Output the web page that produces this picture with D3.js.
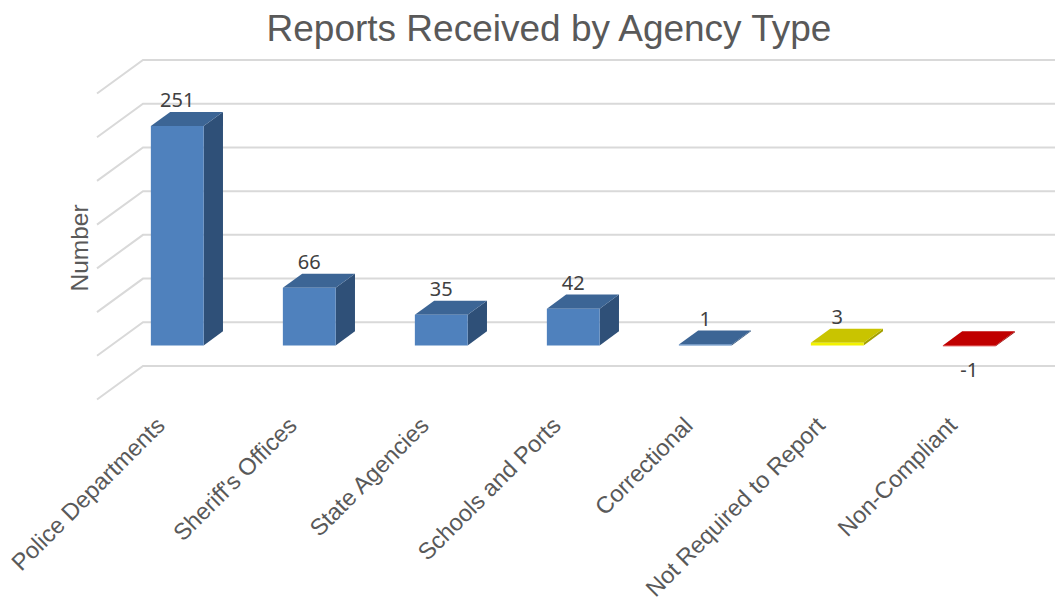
<!DOCTYPE html>
<html>
<head>
<meta charset="utf-8">
<script src="https://cdn.jsdelivr.net/npm/d3@7"></script>
<style>
  html, body { margin: 0; padding: 0; background: #fff; }
  svg { display: block; }
</style>
</head>
<body>
<div id="chart"></div>
<script>
// Data
const categories = ['Police Departments', "Sheriff's Offices", 'State Agencies', 'Schools and Ports',
                    'Correctional', 'Not Required to Report', 'Non-Compliant'];
const values = [251, 66, 35, 42, 1, 3, -1];
const yDomain = [-50, 300];

// Shading per bar: front, top, side
const shades = [
  ['#4f81bd', '#3c6595', '#2f5078'],
  ['#4f81bd', '#3c6595', '#2f5078'],
  ['#4f81bd', '#3c6595', '#2f5078'],
  ['#4f81bd', '#3c6595', '#2f5078'],
  ['#4f81bd', '#3c6595', '#2f5078'],
  ['#f2f200', '#c9c400', '#a3a000'],
  ['#d00000', '#c00000', '#900000']
];

const width = 1055, height = 601;
const sansFont = 'Arial, "Liberation Sans", sans-serif';

// Depth vector for oblique projection (full floor depth)
const depthX = 46, depthY = -33.5;
const zFront = 0.31, zBack = 0.73;

const svg = d3.select('#chart').append('svg')
  .attr('width', width)
  .attr('height', height);

// Scales in the front plane
const x = d3.scaleBand()
  .domain(categories)
  .range([97, 1021])
  .paddingInner(0.6)
  .paddingOuter(0.3);

const y = d3.scaleLinear()
  .domain(yDomain)
  .range([399.5, 93.5]);

const proj = (px, v, z) => [px + z * depthX, y(v) + z * depthY];
const poly = pts => 'M' + pts.map(p => p.join(',')).join('L') + 'Z';

// Gridlines: back wall + left wall
const grid = svg.append('g')
  .attr('stroke', '#d9d9d9')
  .attr('stroke-width', 2)
  .attr('fill', 'none');

y.ticks(7).forEach(t => {
  const a = proj(97, t, 0), b = proj(97, t, 1), c = proj(1100, t, 1);
  grid.append('path').attr('d', `M${a}L${b}L${c}`);
});

// Bars
const bars = svg.append('g');
values.forEach((v, i) => {
  const x0 = x(categories[i]), x1 = x0 + x.bandwidth();
  const top = Math.max(0, v), bot = Math.min(0, v);
  const [front, topC, side] = shades[i];
  const g = bars.append('g');
  g.append('path')
    .attr('fill', side)
    .attr('d', poly([proj(x1, top, zFront), proj(x1, top, zBack), proj(x1, bot, zBack), proj(x1, bot, zFront)]));
  g.append('path')
    .attr('fill', topC)
    .attr('d', poly([proj(x0, top, zFront), proj(x1, top, zFront), proj(x1, top, zBack), proj(x0, top, zBack)]));
  g.append('path')
    .attr('fill', front)
    .attr('d', poly([proj(x0, top, zFront), proj(x1, top, zFront), proj(x1, bot, zFront), proj(x0, bot, zFront)]));

  // data label
  const cx = (x0 + x1) / 2 + zFront * depthX;
  const ly = v >= 0 ? proj(0, top, zFront)[1] - 19 : proj(0, bot, zFront)[1] + 31;
  svg.append('text')
    .attr('x', cx)
    .attr('y', ly)
    .attr('text-anchor', 'middle')
    .attr('font-family', '"Noto Sans", sans-serif')
    .attr('font-size', 20)
    .attr('fill', '#404040')
    .text(v);
});

// Category labels
svg.append('g')
  .selectAll('text')
  .data(categories)
  .join('text')
    .attr('transform', d => `translate(${x(d) + x.bandwidth() / 2 + zFront * depthX - 11},427) rotate(-45)`)
    .attr('text-anchor', 'end')
    .attr('font-family', sansFont)
    .attr('font-size', 23.5)
    .attr('fill', '#595959')
    .text(d => d);

// Axis title
svg.append('text')
  .attr('transform', 'translate(88,248) rotate(-90)')
  .attr('text-anchor', 'middle')
  .attr('font-family', sansFont)
  .attr('font-size', 24.5)
  .attr('fill', '#595959')
  .text('Number');

// Chart title
svg.append('text')
  .attr('x', 549)
  .attr('y', 41)
  .attr('text-anchor', 'middle')
  .attr('font-family', sansFont)
  .attr('font-size', 37)
  .attr('fill', '#595959')
  .text('Reports Received by Agency Type');
</script>
</body>
</html>
